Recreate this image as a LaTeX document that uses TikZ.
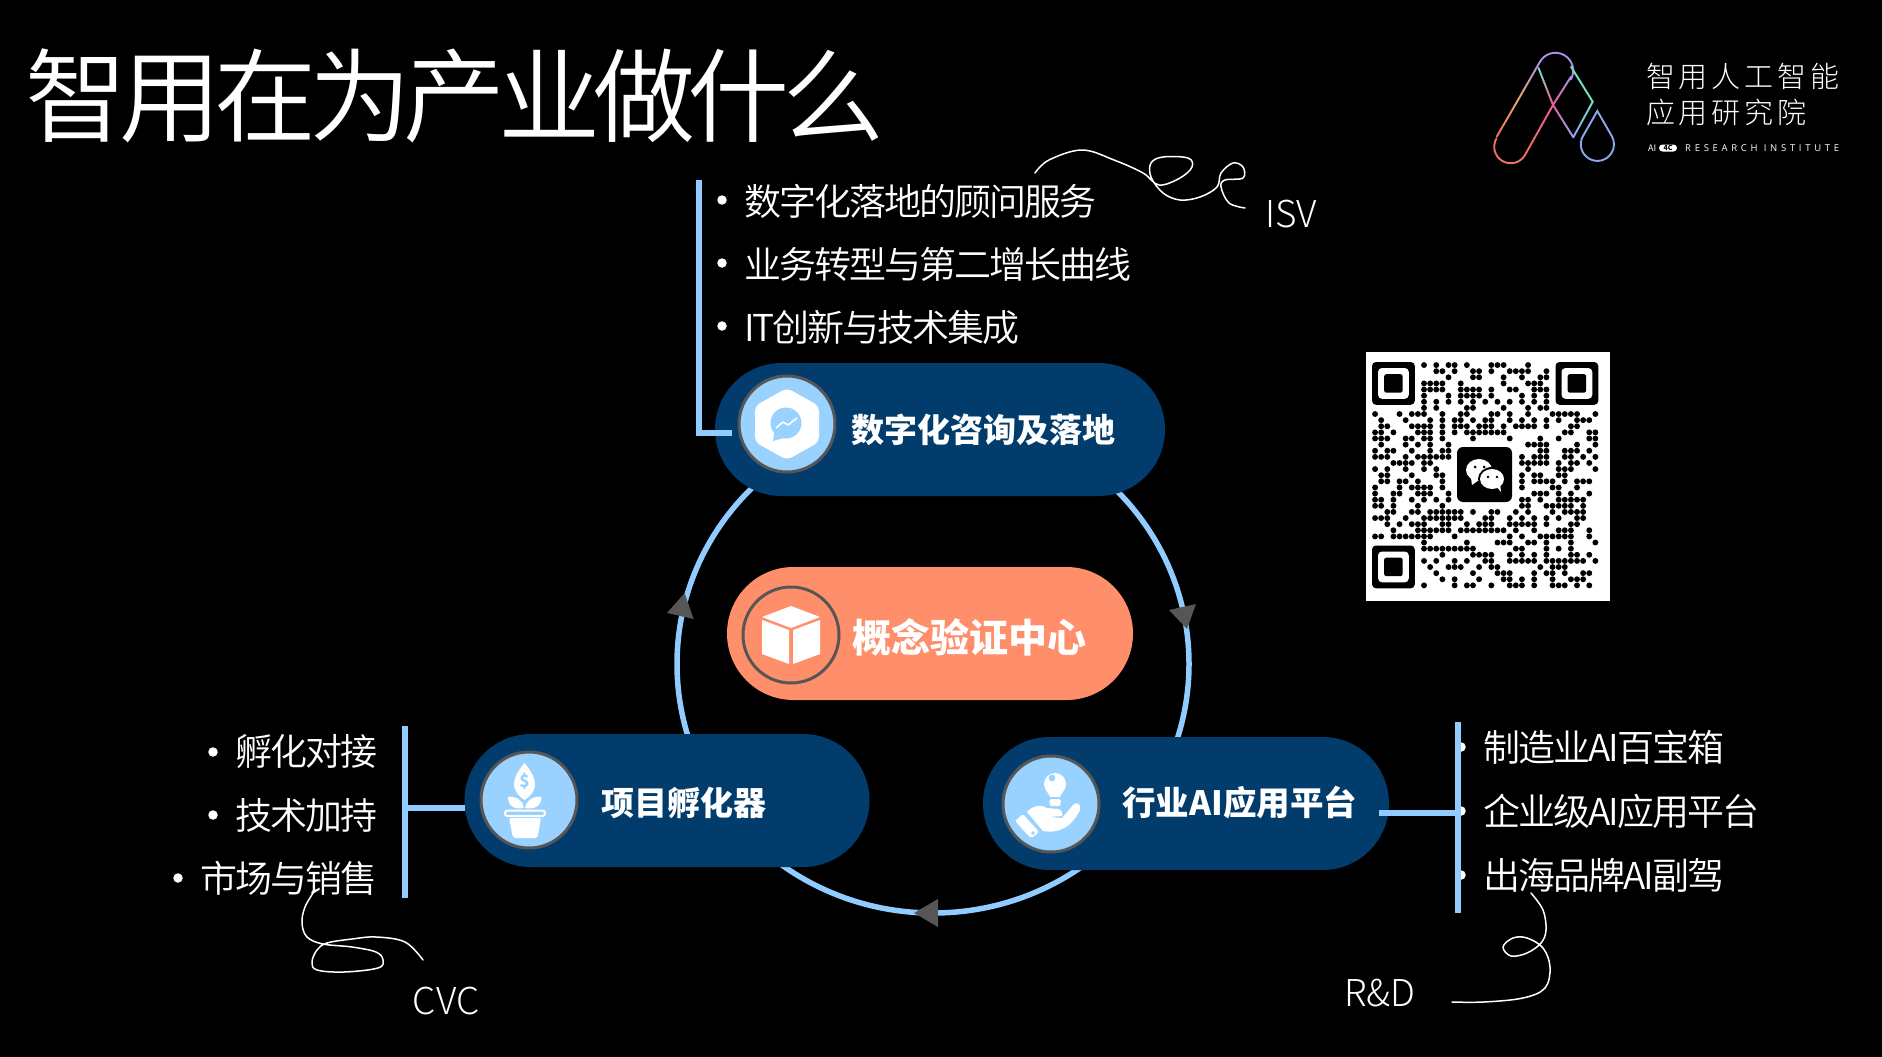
\documentclass[tikz,border=0pt]{standalone}
\usepackage{fontspec}
\setmainfont{Noto Sans CJK SC}
\newfontfamily\cjkl{Noto Sans CJK SC Light}
\newfontfamily\cjktitle[LetterSpace=-7.2]{Noto Sans CJK SC DemiLight}
\newfontfamily\cjkitem[LetterSpace=-5.4]{Noto Sans CJK SC DemiLight}
\newfontfamily\cjklw[LetterSpace=13]{Noto Sans CJK SC Light}
\newfontfamily\lsp[LetterSpace=39]{Open Sans}
\usetikzlibrary{calc}
\definecolor{navy}{HTML}{023C6C}
\definecolor{peach}{HTML}{FF8F6B}
\definecolor{sky}{HTML}{90CCFF}
\definecolor{disc}{HTML}{99D1FF}
\definecolor{rim}{HTML}{565656}
\definecolor{lcoral}{HTML}{F2705F}
\definecolor{lorange}{HTML}{EFA46A}
\definecolor{lpurple}{HTML}{AE8EEC}
\definecolor{lpink}{HTML}{E9609C}
\definecolor{lteal}{HTML}{6FE3C6}
\definecolor{lblue}{HTML}{8EA6EE}
\newcommand\gradseg[4]{%
  \foreach \i in {1,...,12}{%
    \pgfmathsetmacro\ta{(\i-1)/12}\pgfmathsetmacro\tb{\i/12}\pgfmathsetmacro\pp{100-100*(\i-0.5)/12}%
    \draw[logoline,color={#3!\pp!#4}] ($#1!\ta!#2$) -- ($#1!\tb!#2$);}}
\newcommand\txt[1]{\fontsize{#1}{#1}\selectfont}
\tikzset{
  pill/.style={fill=#1,rounded corners=66.5pt,minimum height=133pt,inner sep=0pt,outer sep=0pt},
  disk/.style={circle,minimum size=96pt,inner sep=0pt,draw=rim,line width=3pt,fill=#1},
  pilltext/.style={text=white,anchor=west,inner sep=0pt,font=\bfseries\txt{#1}},
  item/.style={text=white,inner sep=0pt,font=\cjkitem\txt{37}},
  side/.style={text=white,inner sep=0pt,font=\cjkl\txt{37}},
  dot/.style={circle,fill=white,inner sep=0pt,minimum size=9.5pt},
  bar/.style={draw=sky,line width=6pt},
  ringline/.style={draw=sky,line width=5.5pt},
  headtip/.style={fill=rim},
  scribble/.style={draw=white,line width=1.5pt,line cap=round,line join=round},
  logoline/.style={line width=1.9pt,line cap=round},
  finder/.style={rounded corners=4pt},
  qrdot/.style={fill=black}
}
\begin{document}
\begin{tikzpicture}[x=1pt,y=-1pt]
\useasboundingbox (0,0) rectangle (1882,1057);
\fill[black] (0,0) rectangle (1882,1057);

% title
\node[text=white,anchor=west,inner sep=0pt,font=\cjktitle\txt{102}] (title) at (25,96) {智用在为产业做什么};

% logo
\gradseg{(1496.7,136.7)}{(1518,100)}{lcoral}{lorange}
\gradseg{(1518,100)}{(1540,61.7)}{lorange}{lpurple}
\draw[logoline,lpurple] (1540,61.7) arc[start angle=210,end angle=390,radius=17.8];
\gradseg{(1571,76.7)}{(1553,105)}{lpurple}{lpink}
\gradseg{(1553,105)}{(1525,155)}{lpink}{lcoral}
\draw[logoline,lcoral] (1525,155) arc[start angle=30,end angle=210,radius=16.5];
\gradseg{(1538.5,68)}{(1553,105)}{lteal}{lpink}
\gradseg{(1553,105)}{(1573.3,137.3)}{lpink}{lblue}
\gradseg{(1573.3,137.3)}{(1592.7,101.7)}{lblue}{lteal}
\gradseg{(1592.7,101.7)}{(1571,66.7)}{lteal}{lteal}
\draw[logoline,lblue] (1597.3,111) -- (1583,136) arc[start angle=210,end angle=-30,radius=16.6] -- cycle;
\node[text=white,anchor=west,inner sep=0pt,font=\cjklw\txt{29}] (logoa) at (1646,77) {智用人工智能};
\node[text=white,anchor=west,inner sep=0pt,font=\cjklw\txt{29}] (logob) at (1646,112) {应用研究院};
\node[text=white,anchor=west,inner sep=0pt,font=\txt{9}] (logoai) at (1648,148) {AI};
\node[fill=white,rounded corners=3.5pt,minimum width=18pt,minimum height=7pt,inner sep=0pt,text=black,font=\bfseries\txt{7}] (logofc) at (1668,148) {4C};
\node[text=white,anchor=west,inner sep=0pt,font=\lsp\txt{9.5}] (logoc) at (1685,148) {RESEARCH INSTITUTE};

% ring
\coordinate (ringc) at (933,664);
\draw[ringline] (ringc) ellipse[x radius=256,y radius=249];

% pills
\node[pill=navy,minimum width=450pt] (ptop) at (940,429.5) {};
\node[pill=peach,minimum width=406pt] (pmid) at (930,633.5) {};
\node[pill=navy,minimum width=405pt] (pleft) at (667,800.5) {};
\node[pill=navy,minimum width=406pt] (pright) at (1186,803.5) {};

% arrow heads
\fill[headtip] (684.6,593) -- (667,613) -- (693.6,619) -- cycle;
\fill[headtip] (1169,610) -- (1196,604) -- (1187,629) -- cycle;
\fill[headtip] (914,913) -- (938,899) -- (938,927) -- cycle;

% discs
\node[disk=disc] (dtop) at (787,424) {};
\node[disk=peach] (dmid) at (791,635) {};
\node[disk=disc] (dleft) at (529,800) {};
\node[disk=disc] (dright) at (1051,804) {};

% icon: hexagon with chat bubble
\fill[white,rounded corners=5pt] (787,388) -- (819,406) -- (819,442) -- (787,460) -- (755,442) -- (755,406) -- cycle;
\fill[disc] (786,423) circle[radius=15.5];
\fill[disc] (775,428) -- (773,441) -- (787,437) -- cycle;
\draw[white,line width=1.6pt,line join=round] (776,428) -- (783,422) -- (788,425) -- (797,418);

% icon: cube
\fill[white] (791,606) -- (820,617) -- (791,628) -- (762,617) -- cycle;
\fill[white] (762,620) -- (789,630) -- (789,664) -- (762,654) -- cycle;
\fill[white] (793,630) -- (820,620) -- (820,654) -- (793,664) -- cycle;

% icon: plant
\fill[white] (524.5,763) .. controls (518,771) and (514,778) .. (514,784) .. controls (514,792) and (520,797) .. (524.5,800) .. controls (529,797) and (535,792) .. (535,784) .. controls (535,778) and (531,771) .. (524.5,763) -- cycle;
\node[text=disc,inner sep=0pt,font=\bfseries\txt{17}] (dollar) at (524.5,781) {\$};
\fill[white] (508,797) .. controls (517,796) and (523,801) .. (524,808) .. controls (515,810) and (508,806) .. (508,797) -- cycle;
\fill[white] (541.5,797) .. controls (532,796) and (526,801) .. (525,808) .. controls (534,810) and (541.5,806) .. (541.5,797) -- cycle;
\draw[white,line width=2pt,rounded corners=2.5pt] (505,810.5) rectangle (545,816);
\fill[white,rounded corners=2pt] (509,818) -- (541,818) -- (537.5,838) -- (513,838) -- cycle;

% icon: hand and bulb
\fill[white] (1055,773) .. controls (1048,773) and (1044,779) .. (1044,784) .. controls (1044,790) and (1049,793) .. (1050,797) -- (1060,797) .. controls (1061,793) and (1066,790) .. (1066,784) .. controls (1066,779) and (1062,773) .. (1055,773) -- cycle;
\fill[disc] (1052,778) circle[radius=3.4];
\fill[white,rounded corners=1.5pt] (1049.5,799) rectangle (1060.5,806);
\fill[white,rounded corners=2pt] (1023,814) -- (1039,832) -- (1031,838.5) -- (1015,821) -- cycle;
\fill[disc] (1033,833) circle[radius=1.8];
\fill[white] (1027,812) .. controls (1032,806) and (1040,804) .. (1047,808) -- (1058,809) .. controls (1062,810) and (1063,813) .. (1062,816) -- (1049,817) -- (1062,818) -- (1073,805) .. controls (1076,801) and (1082,804) .. (1080,810) .. controls (1076,818) and (1070,826) .. (1062,829) .. controls (1056,832) and (1050,832) .. (1043,831) -- cycle;

% qr
\fill[white] (1366,352) rectangle (1610,601);
\foreach \ox/\oy in {1372/362,1555.5/362,1372/545.5}{
  \fill[black,finder] (\ox,\oy) rectangle ++(42.8,42.8);
  \fill[white,finder] (\ox+6,\oy+6) rectangle ++(30.8,30.8);
  \fill[black,rounded corners=2pt] (\ox+12.2,\oy+12.2) rectangle ++(18.4,18.4);
}
\foreach \r/\l in {
0/{8,10,12,13,15,19,20,21,25},
1/{10,11,13,16,17,19,22,23,24,25,28},
2/{12,16,17,21,24,27,28},
3/{8,9,10,11,14,21,25,26,27},
4/{8,9,10,11,14,15,16,17,19,22,23,26,27,28},
5/{8,12,14,15,16,17,19,24,26,28},
6/{8,10,12,14,16,18,20,22,24,26,28},
7/{8,10,15,16,21,25,27,28},
8/{0,4,6,7,8,11,14,15,19,20,22,25,29,30,31,32,33,36},
9/{1,5,9,11,13,14,16,18,19,22,24,26,28,30,33,34,35},
10/{1,2,6,7,8,9,11,13,14,15,17,18,19,21,23,24,25,26,28,32,33},
11/{0,1,3,7,8,9,11,13,15,16,17,18,19,20,21,31,32,35,36},
12/{0,1,2,5,6,8,9,11,16,22,27,30,35,36},
13/{1,5,7,9,12,25,26,27,28,33,36},
14/{0,2,3,6,9,11,12,27,28,31,32,33,35},
15/{0,1,2,5,7,8,9,10,11,12,24,26,27,28,31,32,34,36},
16/{3,4,5,6,8,9,24,25,26,27,28,30,32,33,35},
17/{0,2,5,8,10,25,30,31,32,36},
18/{1,2,6,10,11,24,26,27,30,31},
19/{1,2,4,5,7,11,24,26,27,28,29,31,33,34,35},
20/{0,4,6,7,8,9,11,24,29,30,33},
21/{0,3,4,7,8,9,12,26,27,28,30,32,35},
22/{0,1,3,6,8,10,12,24,25,27,30,31,32,33,34},
23/{0,1,3,7,11,24,25,28,29,30,31,32,34},
24/{2,3,6,7,9,10,11,12,13,14,16,19,20,23,25,29,31,32,33,34},
25/{0,1,2,5,8,9,10,11,12,13,14,18,19,22,24,26,28,30,33,34},
26/{2,4,6,7,8,11,12,15,17,18,19,22,23,24,25,26,28,32,33},
27/{3,7,8,9,10,11,12,14,15,16,17,18,19,20,21,23,26,30,31,32,35},
28/{0,1,3,4,5,6,7,8,9,13,22,24,27,28,29,30,31,32,35},
29/{8,15,20,21,22,25,26,28,32,36},
30/{8,9,10,11,12,13,14,15,16,23,24,28,30,32},
31/{11,16,17,18,19,22,24,26,28,32,33,35},
32/{8,10,13,15,18,19,22,23,24,25,26,28,29,30,31,32,33,34,36},
33/{9,12,13,14,17,19,20,27,29,30,31},
34/{10,16,20,21,22,26,28,29,31,34,35},
35/{11,13,17,21,22,24,26,29,32,33,34},
36/{8,13,15,16,19,22,23,24,26,29,30,31,33,35}}{
  \foreach \c in \l {\fill[qrdot] ({1372+6.12*(\c+0.5)},{362+6.12*(\r+0.5)}) circle[radius=2.95];}
}
\fill[black,rounded corners=6pt] (1457,447) rectangle (1512,502);
\fill[white] (1479,470) ellipse[x radius=13,y radius=11];
\fill[white] (1471,478) -- (1472,485) -- (1479,480) -- cycle;
\fill[black] (1492,479) ellipse[x radius=14,y radius=12];
\fill[white] (1492,479) ellipse[x radius=12,y radius=10];
\fill[white] (1496,486) -- (1501,492) -- (1500,483) -- cycle;
\fill[black] (1475,467) circle[radius=1.5] (1484,467) circle[radius=1.5] (1488,477) circle[radius=1.4] (1497,477) circle[radius=1.4];

% pill labels
\node[pilltext=33] (ltop) at (851,430) {数字化咨询及落地};
\node[pilltext=39] (lmid) at (852,637) {概念验证中心};
\node[pilltext=33] (lleft) at (601,803) {项目孵化器};
\node[pilltext=33.5] (lright) at (1122,803) {行业AI应用平台};

% top list
\node[dot] (b1) at (722,200) {}; \node[item,anchor=west] (t1) at (744,201) {数字化落地的顾问服务};
\node[dot] (b2) at (722,263) {}; \node[item,anchor=west] (t2) at (744,264) {业务转型与第二增长曲线};
\node[dot] (b3) at (722,326) {}; \node[item,anchor=west] (t3) at (744,327) {IT创新与技术集成};

% left list
\node[dot] (b4) at (213,752) {}; \node[item,anchor=east] (t4) at (378,752) {孵化对接};
\node[dot] (b5) at (213,815) {}; \node[item,anchor=east] (t5) at (378,815) {技术加持};
\node[dot] (b6) at (178,878) {}; \node[item,anchor=east] (t6) at (378,878) {市场与销售};

% right list
\node[dot] (b7) at (1461,747) {}; \node[item,anchor=west] (t7) at (1483,747) {制造业AI百宝箱};
\node[dot] (b8) at (1461,811) {}; \node[item,anchor=west] (t8) at (1483,811) {企业级AI应用平台};
\node[dot] (b9) at (1461,875) {}; \node[item,anchor=west] (t9) at (1483,875) {出海品牌AI副驾};

% brackets
\coordinate (ta) at (699,180); \coordinate (tb) at (699,433); \coordinate (tc) at (732,433);
\draw[bar] (ta) -- (tb) -- (tc);
\coordinate (la) at (405,726); \coordinate (lb) at (405,898); \coordinate (lc) at (405,808);
\draw[bar] (la) -- (lb);
\draw[bar] (lc) -- (pleft.west |- lc);
\coordinate (ra) at (1458,722); \coordinate (rb) at (1458,913); \coordinate (rc) at (1458,813); \coordinate (rd) at (1379,813);
\draw[bar] (ra) -- (rb);
\draw[bar] (rd) -- (rc);

% side labels
\node[side] (isv) at (1291,214) {ISV};
\node[side] (rnd) at (1380,993) {R\&D};
\node[side] (cvc) at (446,1001) {CVC};

% hand-drawn strokes
\draw[scribble] plot[smooth,tension=0.6] coordinates {(1035,173) (1049,160) (1082,150) (1114,160) (1143,173) (1159,185) (1180,178) (1192,167) (1188,158) (1163,157) (1151,163) (1151,177) (1163,193) (1180,200) (1200,197) (1217,187) (1221,173) (1233,163) (1243,167) (1243,178) (1225,180) (1221,187) (1229,203) (1245,208)};
\draw[scribble] plot[smooth,tension=0.6] coordinates {(315,890) (305,907) (302,923) (307,937) (323,944) (352,947) (376,952) (383,960) (378,968) (344,972) (317,970) (312,962) (317,950) (327,943) (352,939) (376,937) (405,942) (423,960)};
\draw[scribble] plot[smooth,tension=0.6] coordinates {(1531,893) (1543,910) (1546,930) (1541,943) (1527,953) (1511,956) (1503,947) (1513,938) (1527,938) (1543,948) (1550,967) (1545,988) (1523,998) (1484,1002) (1452,1002)};
\end{tikzpicture}
\end{document}
